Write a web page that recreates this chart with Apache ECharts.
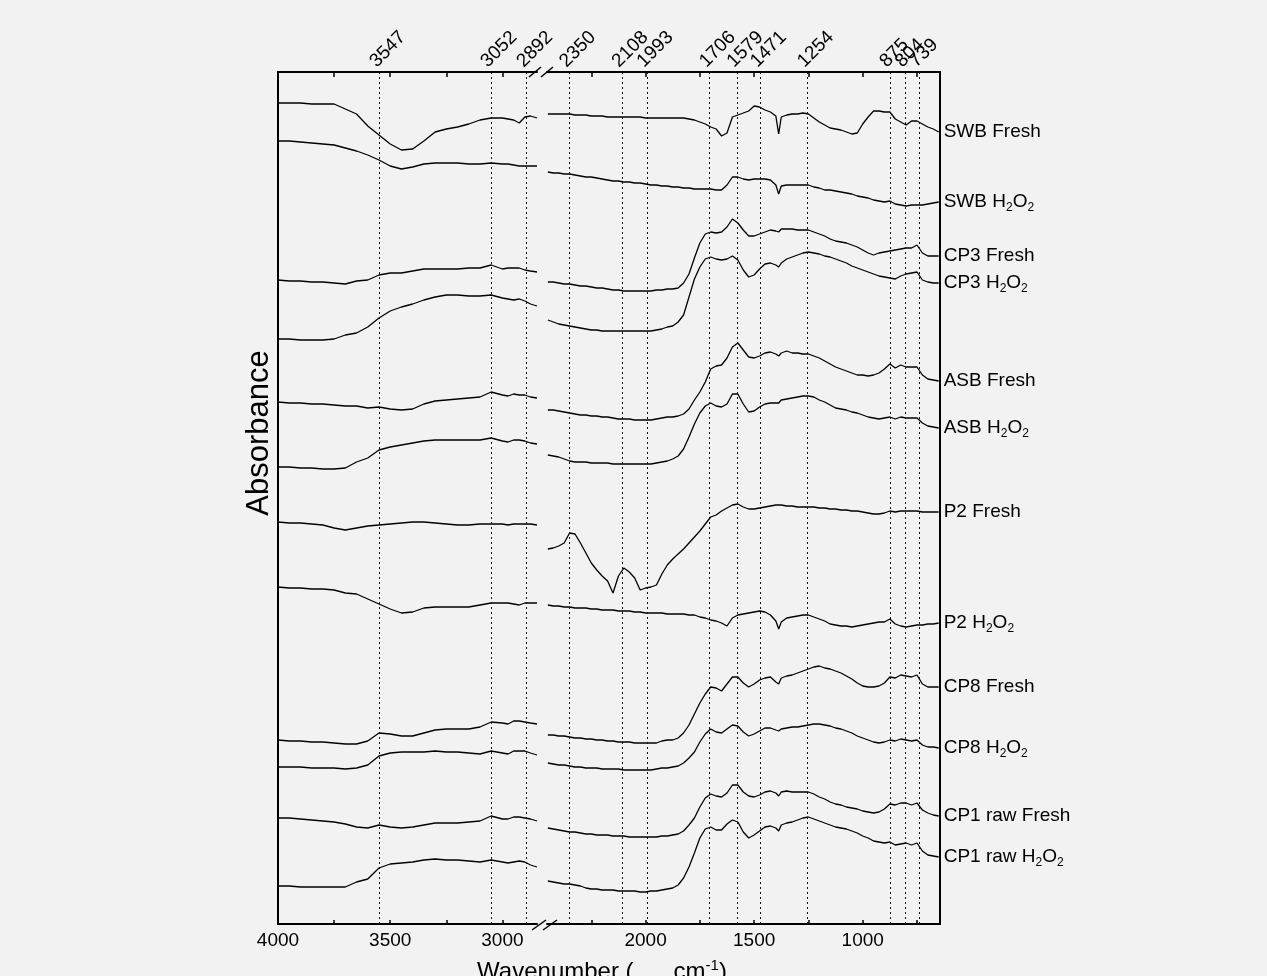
<!DOCTYPE html>
<html>
<head>
<meta charset="utf-8">
<script src="https://cdn.jsdelivr.net/npm/echarts@6.0.0/dist/echarts.min.js"></script>
<style>
html, body { margin: 0; padding: 0; background: #f2f2f2; }
#chart { width: 1267px; height: 976px; }
</style>
</head>
<body>
<div id="chart"></div>
<script>
// wavenumbers (cm-1) on both sides of the axis break
var wnLeft = [4000,3950,3900,3850,3800,3750,3700,3650,3600,3550,3500,3450,3400,3350,3300,3250,3200,3150,3100,3050,3000,2975,2950,2925,2900,2875,2846];
var wnRight = [2450,2425,2400,2375,2350,2325,2300,2275,2250,2225,2200,2175,2150,2125,2100,2075,2050,2025,2000,1975,1950,1925,1900,1875,1850,1825,1800,1775,1750,1725,1700,1675,1650,1625,1600,1575,1550,1525,1500,1475,1450,1425,1400,1387,1375,1350,1325,1300,1275,1250,1225,1200,1175,1150,1125,1100,1075,1050,1025,1000,975,950,925,900,875,850,825,800,775,750,725,700,675,650];

// axis ticks / labels
var ticksLeft = [3750,3500,3250,3000];
var labelsLeft = [4000,3500,3000];
var ticksRight = [2250,2000,1750,1500,1250,1000,750];
var labelsRight = [2000,1500,1000];
var peaksLeft = [3547,3052,2892];
var peaksRight = [2350,2108,1993,1706,1579,1471,1254,875,804,739];

// offset absorbance (stacked)
var swbFreshL = [8.21,8.21,8.21,8.20,8.20,8.20,8.15,8.10,7.98,7.89,7.80,7.74,7.75,7.83,7.92,7.95,7.97,8.00,8.04,8.06,8.06,8.05,8.04,8.01,8.07,8.08,8.06];
var swbFreshR = [8.10,8.10,8.10,8.10,8.10,8.09,8.09,8.09,8.08,8.08,
  8.08,8.07,8.07,8.07,8.07,8.07,8.07,8.07,8.06,8.06,
  8.06,8.06,8.06,8.06,8.06,8.06,8.05,8.04,8.02,8.00,
  7.97,7.95,7.88,7.91,8.07,8.09,8.11,8.13,8.18,8.17,
  8.14,8.12,8.08,7.90,8.07,8.09,8.10,8.10,8.11,8.10,
  8.06,8.02,7.99,7.96,7.95,7.94,7.92,7.90,7.91,8.00,
  8.07,8.13,8.13,8.12,8.12,8.05,8.02,7.99,8.03,8.03,
  8.00,7.97,7.95,7.92];

var swbH2o2L = [7.83,7.83,7.82,7.81,7.80,7.79,7.76,7.73,7.69,7.64,7.58,7.55,7.57,7.60,7.61,7.61,7.61,7.60,7.60,7.61,7.60,7.60,7.59,7.58,7.58,7.58,7.58];
var swbH2o2R = [7.52,7.51,7.51,7.50,7.50,7.49,7.48,7.47,7.47,7.46,
  7.45,7.44,7.43,7.43,7.42,7.42,7.41,7.41,7.40,7.39,
  7.39,7.38,7.38,7.37,7.37,7.36,7.36,7.35,7.35,7.35,
  7.35,7.34,7.34,7.39,7.47,7.47,7.45,7.44,7.45,7.45,
  7.45,7.44,7.39,7.30,7.38,7.39,7.39,7.39,7.39,7.39,
  7.37,7.36,7.34,7.34,7.33,7.32,7.31,7.30,7.28,7.27,
  7.26,7.24,7.23,7.22,7.23,7.20,7.19,7.18,7.19,7.19,
  7.19,7.20,7.21,7.22];

var cp3FreshL = [6.44,6.43,6.43,6.42,6.42,6.41,6.40,6.43,6.44,6.49,6.51,6.51,6.53,6.55,6.55,6.55,6.55,6.56,6.56,6.59,6.55,6.56,6.56,6.56,6.54,6.53,6.52];
var cp3FreshR = [6.42,6.42,6.41,6.40,6.40,6.39,6.38,6.38,6.37,6.36,
  6.36,6.35,6.34,6.34,6.33,6.33,6.33,6.33,6.33,6.33,
  6.34,6.34,6.35,6.35,6.36,6.41,6.50,6.66,6.81,6.90,
  6.92,6.91,6.92,6.97,7.05,7.01,6.94,6.88,6.88,6.90,
  6.92,6.94,6.93,6.92,6.95,6.95,6.95,6.94,6.94,6.94,
  6.92,6.90,6.88,6.85,6.83,6.82,6.81,6.79,6.77,6.74,
  6.71,6.69,6.71,6.72,6.73,6.74,6.75,6.76,6.76,6.79,
  6.71,6.68,6.68,6.68];

var cp3H2o2L = [5.85,5.85,5.84,5.84,5.84,5.85,5.89,5.91,5.97,6.06,6.13,6.17,6.20,6.24,6.27,6.29,6.29,6.28,6.28,6.29,6.26,6.25,6.24,6.25,6.23,6.20,6.18];
var cp3H2o2R = [6.04,6.02,6.00,5.99,5.98,5.97,5.96,5.95,5.94,5.94,
  5.93,5.93,5.93,5.93,5.93,5.93,5.93,5.93,5.93,5.93,
  5.94,5.95,5.97,5.98,6.02,6.09,6.27,6.45,6.57,6.65,
  6.67,6.65,6.64,6.65,6.68,6.64,6.54,6.47,6.49,6.55,
  6.60,6.61,6.59,6.57,6.61,6.65,6.67,6.69,6.71,6.72,
  6.71,6.70,6.68,6.67,6.65,6.63,6.61,6.58,6.56,6.54,
  6.52,6.50,6.48,6.47,6.46,6.45,6.48,6.50,6.51,6.52,
  6.44,6.42,6.41,6.41];

var asbFreshL = [5.22,5.21,5.21,5.20,5.20,5.19,5.18,5.18,5.16,5.17,5.15,5.14,5.15,5.20,5.23,5.24,5.25,5.26,5.27,5.32,5.29,5.28,5.30,5.29,5.29,5.27,5.26];
var asbFreshR = [5.14,5.14,5.13,5.12,5.11,5.10,5.09,5.09,5.08,5.08,
  5.07,5.07,5.06,5.05,5.05,5.05,5.04,5.04,5.04,5.04,
  5.05,5.06,5.07,5.07,5.08,5.10,5.15,5.24,5.32,5.42,
  5.55,5.58,5.59,5.66,5.77,5.81,5.74,5.67,5.66,5.68,
  5.71,5.72,5.70,5.68,5.71,5.73,5.71,5.71,5.70,5.70,
  5.68,5.66,5.63,5.60,5.57,5.55,5.53,5.51,5.49,5.49,
  5.48,5.49,5.51,5.55,5.60,5.56,5.59,5.57,5.57,5.57,
  5.49,5.45,5.44,5.43];

var asbH2o2L = [4.57,4.57,4.56,4.56,4.55,4.55,4.56,4.62,4.66,4.74,4.77,4.79,4.81,4.83,4.84,4.84,4.84,4.84,4.84,4.86,4.83,4.82,4.84,4.84,4.83,4.81,4.80];
var asbH2o2R = [4.69,4.68,4.67,4.65,4.63,4.62,4.62,4.62,4.61,4.61,
  4.61,4.61,4.60,4.60,4.60,4.60,4.60,4.60,4.60,4.60,
  4.61,4.62,4.63,4.65,4.68,4.75,4.87,5.00,5.11,5.18,
  5.21,5.18,5.17,5.20,5.30,5.30,5.20,5.12,5.13,5.17,
  5.20,5.21,5.21,5.21,5.24,5.25,5.26,5.27,5.28,5.28,
  5.27,5.24,5.22,5.19,5.16,5.15,5.14,5.12,5.11,5.09,
  5.07,5.06,5.05,5.06,5.07,5.05,5.07,5.06,5.06,5.06,
  5.01,4.98,4.97,4.96];

var p2FreshL = [4.02,4.01,4.01,4.00,3.99,3.96,3.94,3.96,3.98,3.99,4.00,4.01,4.02,4.02,4.01,4.00,3.99,3.99,4.00,4.00,4.00,3.99,4.00,4.00,4.00,4.00,3.99];
var p2FreshR = [3.75,3.76,3.78,3.81,3.91,3.90,3.81,3.71,3.61,3.54,
  3.48,3.43,3.31,3.48,3.56,3.52,3.46,3.34,3.36,3.37,
  3.39,3.50,3.59,3.65,3.70,3.75,3.81,3.87,3.93,4.00,
  4.07,4.09,4.13,4.16,4.19,4.20,4.17,4.15,4.15,4.16,
  4.17,4.18,4.19,4.19,4.19,4.18,4.18,4.17,4.17,4.17,
  4.17,4.16,4.16,4.15,4.15,4.14,4.14,4.13,4.13,4.12,
  4.11,4.10,4.10,4.11,4.13,4.12,4.13,4.13,4.13,4.13,
  4.12,4.12,4.12,4.12];

var p2H2o2L = [3.37,3.36,3.36,3.35,3.35,3.34,3.31,3.30,3.25,3.20,3.15,3.11,3.12,3.16,3.17,3.17,3.17,3.17,3.19,3.21,3.21,3.21,3.20,3.19,3.21,3.21,3.21];
var p2H2o2R = [3.19,3.18,3.18,3.17,3.17,3.16,3.16,3.16,3.15,3.15,
  3.14,3.14,3.14,3.13,3.13,3.13,3.12,3.12,3.11,3.11,
  3.11,3.11,3.10,3.10,3.10,3.10,3.09,3.09,3.07,3.06,
  3.04,3.03,3.01,2.98,3.06,3.09,3.10,3.11,3.12,3.13,
  3.12,3.09,3.03,2.95,3.02,3.06,3.07,3.08,3.09,3.09,
  3.07,3.05,3.03,3.00,2.99,2.98,2.98,2.97,2.98,2.99,
  3.00,3.01,3.02,3.02,3.05,3.00,2.98,2.97,2.98,2.99,
  2.99,3.00,3.00,3.01];

var cp8FreshL = [1.84,1.83,1.83,1.82,1.82,1.81,1.80,1.80,1.83,1.91,1.90,1.88,1.88,1.91,1.94,1.95,1.95,1.95,1.97,2.02,2.01,2.00,2.03,2.03,2.02,2.01,2.00];
var cp8FreshR = [1.89,1.89,1.88,1.88,1.87,1.86,1.86,1.85,1.85,1.84,
  1.84,1.83,1.83,1.82,1.82,1.82,1.81,1.81,1.81,1.81,
  1.81,1.83,1.84,1.84,1.86,1.91,1.99,2.10,2.21,2.30,
  2.37,2.36,2.33,2.40,2.47,2.47,2.41,2.37,2.40,2.44,
  2.46,2.47,2.42,2.40,2.46,2.48,2.49,2.51,2.53,2.55,
  2.57,2.58,2.56,2.55,2.53,2.51,2.48,2.45,2.41,2.38,
  2.37,2.37,2.38,2.41,2.47,2.46,2.49,2.48,2.47,2.49,
  2.40,2.37,2.37,2.37];

var cp8H2o2L = [1.57,1.57,1.57,1.56,1.56,1.56,1.55,1.56,1.59,1.68,1.71,1.72,1.72,1.72,1.73,1.72,1.72,1.71,1.70,1.73,1.71,1.70,1.73,1.73,1.73,1.71,1.69];
var cp8H2o2R = [1.61,1.60,1.59,1.59,1.58,1.57,1.57,1.56,1.56,1.56,
  1.55,1.55,1.55,1.55,1.54,1.54,1.54,1.54,1.54,1.54,
  1.55,1.56,1.56,1.57,1.58,1.61,1.66,1.72,1.82,1.90,
  1.95,1.92,1.91,1.95,1.99,1.98,1.92,1.88,1.90,1.93,
  1.96,1.96,1.94,1.93,1.95,1.96,1.97,1.97,1.98,1.99,
  2.00,2.00,1.99,1.98,1.96,1.95,1.93,1.91,1.88,1.86,
  1.84,1.82,1.81,1.82,1.84,1.83,1.85,1.84,1.83,1.84,
  1.79,1.77,1.77,1.76];

var cp1FreshL = [1.06,1.06,1.05,1.04,1.03,1.02,1.00,0.97,0.96,0.99,0.97,0.96,0.97,0.99,1.01,1.01,1.01,1.02,1.03,1.08,1.05,1.05,1.07,1.07,1.06,1.05,1.03];
var cp1FreshR = [0.96,0.95,0.94,0.93,0.92,0.92,0.91,0.90,0.90,0.89,
  0.89,0.89,0.88,0.88,0.88,0.87,0.87,0.87,0.87,0.87,
  0.87,0.88,0.88,0.89,0.90,0.93,0.99,1.06,1.17,1.26,
  1.30,1.28,1.27,1.31,1.39,1.39,1.32,1.28,1.27,1.29,
  1.32,1.33,1.31,1.28,1.32,1.33,1.32,1.32,1.32,1.32,
  1.30,1.27,1.25,1.22,1.20,1.19,1.17,1.16,1.15,1.13,
  1.12,1.11,1.12,1.15,1.20,1.19,1.21,1.21,1.19,1.21,
  1.14,1.11,1.09,1.08];

var cp1H2o2L = [0.38,0.38,0.37,0.37,0.37,0.37,0.37,0.42,0.45,0.56,0.60,0.61,0.62,0.64,0.65,0.64,0.64,0.63,0.62,0.64,0.62,0.61,0.62,0.63,0.62,0.59,0.57];
var cp1H2o2R = [0.43,0.42,0.41,0.40,0.40,0.39,0.38,0.36,0.35,0.35,
  0.34,0.34,0.34,0.33,0.33,0.33,0.33,0.32,0.32,0.33,
  0.33,0.34,0.35,0.36,0.39,0.46,0.57,0.71,0.86,0.95,
  0.97,0.94,0.94,1.00,1.04,1.02,0.92,0.86,0.89,0.93,
  0.97,0.98,0.96,0.93,0.99,1.01,1.02,1.04,1.06,1.07,
  1.05,1.03,1.01,0.99,0.97,0.96,0.95,0.93,0.91,0.88,
  0.86,0.83,0.82,0.81,0.82,0.79,0.80,0.81,0.79,0.81,
  0.73,0.69,0.68,0.67];

var spectra = [
  ['SWB Fresh', swbFreshL, swbFreshR],
  ['SWB H2O2', swbH2o2L, swbH2o2R],
  ['CP3 Fresh', cp3FreshL, cp3FreshR],
  ['CP3 H2O2', cp3H2o2L, cp3H2o2R],
  ['ASB Fresh', asbFreshL, asbFreshR],
  ['ASB H2O2', asbH2o2L, asbH2o2R],
  ['P2 Fresh', p2FreshL, p2FreshR],
  ['P2 H2O2', p2H2o2L, p2H2o2R],
  ['CP8 Fresh', cp8FreshL, cp8FreshR],
  ['CP8 H2O2', cp8H2o2L, cp8H2o2R],
  ['CP1 raw Fresh', cp1FreshL, cp1FreshR],
  ['CP1 raw H2O2', cp1H2o2L, cp1H2o2R]
];

var FONT = 'Liberation Sans, Arial, sans-serif';

function richName(s) {
  if (s.indexOf('H2O2') < 0) return '{n|' + s + '}';
  return '{n|' + s.replace('H2O2', '') + 'H}{s|2}{n|O}{s|2}';
}

function pairs(xs, ys) {
  return xs.map(function (x, i) { return [x, ys[i]]; });
}

function plain(v) { return String(v); }
function everyOther(arr, odd) {
  return arr.filter(function (v, i) { return (i % 2 === 1) === odd; });
}

var dotted = { type: [2, 3], color: '#111', width: 1 };

function bottomAxis(grid, min, max, ticks, labels) {
  return {
    type: 'value', gridIndex: grid, position: 'bottom', inverse: true,
    min: min, max: max,
    axisLine: { show: true, onZero: false, lineStyle: { color: '#000', width: 2 } },
    axisTick: { show: true, inside: true, length: 4, customValues: ticks, lineStyle: { color: '#000', width: 1.5 } },
    axisLabel: { show: true, customValues: labels, formatter: plain, margin: 7, color: '#000',
      fontSize: 19, fontFamily: FONT, hideOverlap: false, showMinLabel: true, showMaxLabel: true },
    splitLine: { show: false }
  };
}

// top axis: peak labels, rotated; split in two axes so overlapping labels all stay visible
function topAxis(grid, min, max, ticks, labels, withLine) {
  return {
    type: 'value', gridIndex: grid, position: 'top', inverse: true,
    min: min, max: max,
    axisLine: { show: withLine, onZero: false, lineStyle: { color: '#000', width: 2 } },
    axisTick: { show: withLine, inside: true, length: 5, customValues: ticks, lineStyle: { color: '#000', width: 1.5 } },
    axisLabel: { show: true, customValues: labels, formatter: plain, rotate: -45, align: 'left', verticalAlign: 'bottom', margin: 1,
      color: '#000', fontSize: 19, fontFamily: FONT, hideOverlap: false, showMinLabel: true, showMaxLabel: true },
    splitLine: { show: false }
  };
}

function yAxis(grid, pos) {
  return {
    type: 'value', gridIndex: grid, position: pos, min: 0, max: 8.52,
    axisLine: { show: true, onZero: false, lineStyle: { color: '#000', width: 2 } },
    axisTick: { show: false }, axisLabel: { show: false }, splitLine: { show: false }
  };
}

var series = [];
spectra.forEach(function (sp, k) {
  var left = {
    type: 'line', name: sp[0], xAxisIndex: 0, yAxisIndex: 0,
    data: pairs(wnLeft, sp[1]), showSymbol: false, symbol: 'none', silent: true,
    lineStyle: { color: '#000', width: 1.3 }
  };
  var right = {
    type: 'line', name: sp[0], xAxisIndex: 2, yAxisIndex: 1,
    data: pairs(wnRight, sp[2]), showSymbol: false, symbol: 'none', silent: true,
    lineStyle: { color: '#000', width: 1.3 },
    endLabel: {
      show: true, distance: -5, align: 'left', formatter: richName(sp[0]),
      rich: {
        n: { fontSize: 19, fontFamily: FONT, color: '#000', lineHeight: 24 },
        s: { fontSize: 12, fontFamily: FONT, color: '#000', lineHeight: 12, verticalAlign: 'bottom' }
      }
    }
  };
  if (k === 0) {
    left.markLine = { silent: true, symbol: 'none', label: { show: false }, lineStyle: dotted, animation: false,
      data: peaksLeft.map(function (v) { return { xAxis: v }; }) };
    right.markLine = { silent: true, symbol: 'none', label: { show: false }, lineStyle: dotted, animation: false,
      data: peaksRight.map(function (v) { return { xAxis: v }; }) };
  }
  series.push(left, right);
});

var chart = echarts.init(document.getElementById('chart'));
var option = {
  backgroundColor: '#f2f2f2',
  animation: false,
  grid: [
    { left: 278, top: 72, width: 259, height: 852, outerBoundsMode: 'none' },
    { left: 547, top: 72, width: 393, height: 852, outerBoundsMode: 'none' }
  ],
  xAxis: [
    bottomAxis(0, 2846, 4000, ticksLeft, labelsLeft),
    topAxis(0, 2846, 4000, ticksLeft, everyOther(peaksLeft, false), true),
    bottomAxis(1, 644, 2454, ticksRight, labelsRight),
    topAxis(1, 644, 2454, ticksRight, everyOther(peaksRight, false), true),
    topAxis(0, 2846, 4000, [], everyOther(peaksLeft, true), false),
    topAxis(1, 644, 2454, [], everyOther(peaksRight, true), false)
  ],
  yAxis: [yAxis(0, 'left'), yAxis(1, 'right')],
  series: series,
  graphic: [
    // axis break marks
    { type: 'line', shape: { x1: 529, y1: 77, x2: 541, y2: 67 }, style: { stroke: '#000', lineWidth: 1.5 } },
    { type: 'line', shape: { x1: 541, y1: 77, x2: 553, y2: 67 }, style: { stroke: '#000', lineWidth: 1.5 } },
    { type: 'line', shape: { x1: 532, y1: 930, x2: 546, y2: 920 }, style: { stroke: '#000', lineWidth: 1.5 } },
    { type: 'line', shape: { x1: 543, y1: 930, x2: 557, y2: 920 }, style: { stroke: '#000', lineWidth: 1.5 } },
    {
      type: 'text', x: 259, y: 433, rotation: Math.PI / 2,
      style: { text: 'Absorbance', font: '31px ' + FONT, fill: '#000', textAlign: 'center', textVerticalAlign: 'middle' }
    },
    {
      type: 'text', x: 602, y: 972,
      style: {
        text: '{a|Wavenumber (      cm}{b|-1}{a|)}', fill: '#000', textAlign: 'center', textVerticalAlign: 'middle',
        rich: {
          a: { fontSize: 24, fontFamily: FONT, fill: '#000', lineHeight: 28 },
          b: { fontSize: 15, fontFamily: FONT, fill: '#000', lineHeight: 15, verticalAlign: 'top' }
        }
      }
    }
  ]
};
option && chart.setOption(option);
</script>
</body>
</html>
